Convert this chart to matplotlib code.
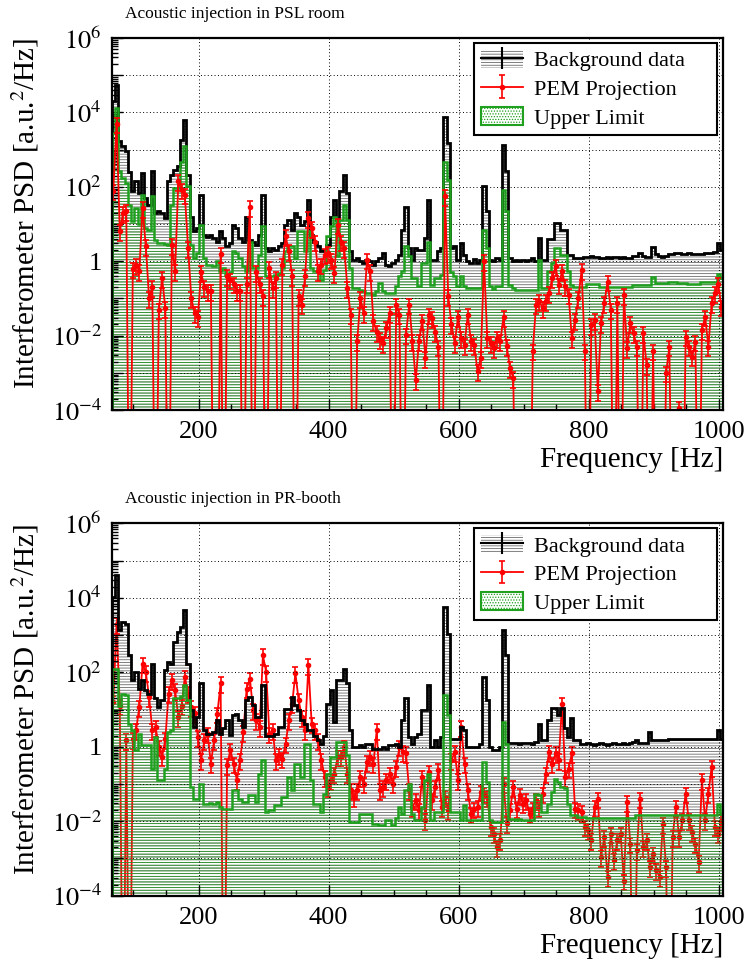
import numpy as np
import matplotlib
matplotlib.use('Agg')
import matplotlib.pyplot as plt
from matplotlib.patches import Patch
from matplotlib.lines import Line2D
from matplotlib.ticker import FixedLocator, FuncFormatter, LogLocator, MultipleLocator

plt.rcParams['font.family'] = ['Liberation Serif', 'DejaVu Serif']
plt.rcParams['mathtext.fontset'] = 'stix'
plt.rcParams['hatch.linewidth'] = 0.6

Z = -np.inf  # empty bin, drawn down to the bottom of the axis

# frequency binning (Hz)
f_lo, f_hi, bin_w = 66.5, 1006.5, 5.0
edges = np.arange(f_lo, f_hi + 0.01, bin_w)
centers = edges[:-1] + bin_w / 2

# all PSD values below are log10(a.u.^2/Hz), one per bin
# --- Acoustic injection in PSL room ---
bg_psl = [4.3, 4.75, 3.22, 3.09, 2.95, 2.4, 1.9, 2.15, 1.83, 2.37,
          1.7, 1.52, 2.43, 1.3, 1.36, 1.3, 1.16, 2.15, 2.33, 2.46,
          2.55, 3.27, 3.8, 2.33, 1.2, 0.8, 0.9, 1.79, 0.71, 0.64,
          0.71, 0.62, 0.53, 0.8, 0.62, 0.4, 0.49, 0.98, 0.89, 0.62,
          0.53, 1.2, 0.58, 0.53, 0.44, 0.71, 1.79, 0.35, 0.27, 0.35,
          0.31, 0.4, 0.49, 0.98, 1.12, 0.85, 1.3, 1.2, 0.98, 1.07,
          1.65, 0.71, 0.53, 0.4, 0.27, 0.31, 0.44, 1.2, 1.65, 1.12,
          1.88, 2.33, 1.83, 0.27, 0.04, 0.09, 0.0, -0.05, 0.04, 0.0,
          -0.09, 0.0, 0.09, 0.22, -0.09, -0.14, -0.05, 0.04, 0.18, 0.85,
          1.47, 0.35, 0.04, 0.35, 0.3, 0.3, 0.62, 1.65, 0.04, 0.04,
          0.27, 0.35, 3.88, 3.18, 0.35, 0.4, 0.04, 0.49, 0.18, 0.0,
          -0.05, 0.05, -0.05, 0.04, 2.01, 1.34, 0.04, 0.0, 0.1, 0.04,
          3.13, 2.42, 0.09, 0.0, 0.04, 0.0, 0.04, 0.0, 0.04, 0.09,
          0.0, 0.62, 0.04, 0.04, 0.6, 0.6, 1.03, 1.03, 0.85, 0.85,
          0.18, 0.18, 0.1, 0.08, 0.1, 0.12, 0.12, 0.13, 0.12, 0.12,
          0.1, 0.1, 0.12, 0.1, 0.12, 0.12, 0.1, 0.12, 0.1, 0.1,
          0.15, 0.15, 0.23, 0.15, 0.12, 0.12, 0.39, 0.2, 0.15, 0.12,
          0.15, 0.2, 0.2, 0.22, 0.22, 0.2, 0.2, 0.22, 0.2, 0.2,
          0.2, 0.2, 0.22, 0.22, 0.22, 0.25, 0.48, 0.3]
ul_psl = [3.45, 4.12, 2.42, 2.24, 2.1, 1.5, 1.07, 1.43, 1.0, 1.79,
          0.89, 0.85, 1.74, 0.58, 0.5, 0.49, 0.45, 0.44, 1.52, 1.97,
          1.97, 2.68, 3.09, 2.01, 0.44, 0.09, 0.22, 0.98, 0.09, -0.09,
          -0.09, -0.14, 0.0, -0.27, -0.18, -0.36, -0.3, 0.27, 0.22, 0.09,
          -0.14, -0.27, 0.53, -0.18, -0.18, 0.18, 0.94, -0.4, -0.4, -0.4,
          -0.36, -0.32, -0.18, 0.27, 0.4, 0.4, 0.09, 0.8, 0.8, 0.27,
          0.8, -0.18, -0.27, -0.18, -0.5, -0.23, 0.67, 0.94, 1.2, 0.13,
          1.12, 1.52, 1.12, -0.18, -0.72, -0.72, -0.77, -0.81, -0.85, -0.85,
          -0.9, -0.81, -0.59, -0.81, -0.85, -0.85, -0.85, -0.67, -0.4, -0.27,
          0.4, 0.13, -0.45, -0.45, -0.67, -0.05, -0.05, 0.53, -0.63, -0.45,
          -0.45, -0.36, 2.68, 2.19, -0.3, -0.4, -0.67, -0.4, -0.67, -0.72,
          -0.72, -0.72, -0.72, -0.72, 0.85, 0.35, -0.67, -0.75, -0.67, -0.67,
          1.92, 1.34, -0.63, -0.72, -0.77, -0.77, -0.77, -0.77, -0.77, -0.77,
          -0.77, 0.04, -0.72, -0.72, -0.27, -0.05, 0.35, 0.35, 0.18, 0.18,
          -0.27, -0.63, -0.69, -0.69, -0.69, -0.69, -0.62, -0.62, -0.62, -0.62,
          -0.69, -0.69, -0.69, -0.69, -0.69, -0.69, -0.69, -0.69, -0.69, -0.69,
          -0.64, -0.64, -0.64, -0.64, -0.64, -0.64, -0.42, -0.58, -0.58, -0.58,
          -0.58, -0.55, -0.55, -0.55, -0.58, -0.58, -0.58, -0.61, -0.61, -0.61,
          -0.61, -0.55, -0.55, -0.55, -0.55, -0.55, -0.33, -0.46]
pem_psl = [1.9, 3.7, 0.8, 1.3, 1.35, Z, -0.2, -0.1, -0.27, 1.43,
           0.4, -1.0, -0.7, Z, -1.3, -0.45, -1.26, Z, 0.44, -0.27,
           2.15, 1.92, 1.79, 0.35, -1.0, -1.4, -1.5, -0.3, -0.7, -0.8,
           -0.8, Z, Z, 0.2, Z, -0.4, -0.5, -0.6, -0.8, -0.8,
           Z, -0.6, 1.45, Z, -0.3, -0.6, -0.94, Z, -0.18, -0.72,
           -0.45, Z, -0.1, 0.67, 0.27, -0.4, Z, -0.94, -1.17, -0.4,
           1.16, 0.89, 0.53, -0.27, -0.09, 0.18, 0.22, 0.04, -0.32, 0.98,
           0.53, 0.35, -0.72, -1.44, Z, -2.15, -1.0, -1.4, 0.04, -0.27,
           -1.62, -1.9, -2.1, -2.2, -1.8, -1.4, Z, -1.17, -1.44, Z,
           -1.97, -1.17, -2.15, -3.2, -2.15, -1.6, -2.6, -1.44, -1.53, -1.9,
           -2.3, Z, 1.75, -0.94, -1.7, -2.2, -1.5, -2.06, -2.25, -1.44,
           -2.15, -2.25, -2.96, -2.6, 0.0, -2.06, -2.2, -2.33, -2.06, -2.15,
           -1.5, -2.29, -2.87, -3.14, Z, Z, Z, Z, Z, -2.4,
           -1.17, -1.08, -1.26, -1.08, -0.85, -0.45, -0.14, -0.63, -0.27, -0.67,
           -0.9, -2.06, -1.58, -1.0, -0.24, -2.4, Z, -1.72, -1.58, -3.5,
           -1.67, -1.13, -0.55, -1.3, Z, -1.13, Z, -0.91, -2.34, -1.67,
           -1.94, -2.3, Z, -1.94, -2.79, Z, -2.4, Z, Z, Z,
           -3.0, -2.3, Z, Z, -3.95, Z, -2.03, -2.3, -2.57, -2.16,
           Z, -1.85, -1.49, -2.3, -1.13, -0.86, -0.6, -1.22]

# --- Acoustic injection in PR-booth ---
bg_pr = [4.03, 4.61, 3.13, 3.35, 3.29, 2.46, 1.79, 2.01, 1.56, 1.79,
         1.52, 1.43, 2.23, 1.3, 1.07, 1.25, 2.06, 2.28, 2.23, 2.82,
         3.09, 3.22, 3.67, 2.23, 0.98, 0.53, 0.8, 1.7, 0.44, 0.35,
         0.35, 0.4, 0.71, 0.35, 0.5, 0.71, 0.31, 0.85, 0.89, 0.71,
         0.53, 1.25, 1.34, 1.12, 0.8, 0.8, 1.65, 0.3, 0.3, 0.3,
         0.35, 0.53, 0.53, 1.02, 1.02, 1.34, 1.12, 0.98, 0.71, 0.62,
         0.44, 0.44, 0.3, 0.17, 0.08, 0.3, 1.16, 1.52, 0.67, 1.79,
         1.79, 2.1, 1.7, 0.44, 0.0, 0.0, 0.04, 0.0, 0.08, 0.08,
         -0.05, -0.05, -0.05, 0.0, -0.05, 0.04, 0.04, 0.08, 0.0, 0.71,
         1.3, 0.26, 0.08, 0.26, 0.35, 0.98, 1.0, 1.65, 0.0, 0.17,
         0.0, 0.26, 3.76, 3.04, 0.22, 0.2, 0.22, 0.53, 0.44, 0.0,
         0.0, 0.0, 0.0, 0.08, 1.87, 1.25, 0.0, -0.09, -0.09, 0.0,
         3.13, 2.46, 0.1, 0.1, 0.1, 0.08, 0.1, 0.1, 0.1, 0.08,
         0.12, 0.62, 0.17, 0.17, 0.71, 1.03, 1.03, 0.85, 1.03, 0.5,
         0.26, 0.76, 0.17, 0.17, 0.08, 0.08, 0.1, 0.08, 0.05, 0.08,
         0.1, 0.08, 0.05, 0.08, 0.1, 0.08, 0.08, 0.1, 0.08, 0.1,
         0.12, 0.17, 0.1, 0.1, 0.1, 0.4, 0.17, 0.17, 0.17, 0.17,
         0.17, 0.22, 0.22, 0.22, 0.22, 0.22, 0.22, 0.2, 0.2, 0.2,
         0.2, 0.2, 0.2, 0.2, 0.2, 0.2, 0.44, 0.2]
ul_pr = [2.1, 2.1, 1.1, 1.43, 1.4, 0.6, 0.46, -0.09, 0.35, 0.04,
         0.04, 0.04, -0.59, 0.26, -0.9, -0.9, -0.6, 0.4, 0.44, 1.3,
         1.3, 1.35, 1.65, 1.25, -1.08, -1.39, -1.39, -0.99, -1.53, -1.53,
         -1.5, -1.53, -1.48, -1.62, -1.66, -1.66, -1.66, -1.17, -1.17, -1.39,
         -1.48, -1.48, -1.3, -1.3, -1.48, -0.72, -0.36, -1.75, -1.71, -1.71,
         -1.57, -1.57, -1.35, -1.35, -0.81, -1.17, -0.45, -0.45, -0.81, 0.08,
         0.08, -0.9, -1.53, -1.53, -1.75, -1.26, -0.72, -0.27, -0.27, 0.13,
         0.13, 0.13, -0.23, -2.02, -2.02, -2.02, -1.8, -1.8, -1.8, -1.8,
         -2.07, -2.07, -2.11, -2.11, -1.98, -1.98, -2.11, -1.9, -1.62, -1.8,
         -1.17, -0.99, -1.8, -1.98, -1.98, -1.62, -0.9, -0.72, -1.98, -1.75,
         -1.75, -1.75, 1.38, 0.85, -1.75, -1.75, -1.75, -1.98, -1.57, -1.98,
         -1.98, -1.98, -1.98, -1.98, -0.41, -0.95, -1.98, -2.02, -2.02, -2.02,
         0.67, 0.08, -1.93, -1.93, -1.98, -1.93, -1.98, -1.98, -1.98, -1.98,
         -1.26, -1.3, -1.75, -1.75, -1.53, -1.21, -0.86, -0.95, -1.08, -1.12,
         -1.53, -1.84, -1.84, -1.88, -1.88, -1.88, -1.9, -1.9, -1.9, -1.9,
         -1.9, -1.9, -1.9, -1.9, -1.9, -1.9, -1.9, -1.9, -1.9, -1.9,
         -1.9, -1.84, -1.84, -1.84, -1.84, -1.84, -1.84, -1.84, -1.84, -1.84,
         -1.84, -1.84, -1.84, -1.84, -1.84, -1.84, -1.84, -1.84, -1.84, -1.84,
         -1.84, -1.84, -1.84, -1.84, -1.84, -1.84, -1.53, -1.8]
pem_pr = [1.2, 3.3, 1.1, Z, 0.17, Z, 0.2, 0.44, 1.07, 2.23,
          2.0, 1.34, 0.44, 0.53, 0.0, -0.27, 0.2, 1.43, 1.79, 1.52,
          0.8, 1.1, 1.88, 1.43, 1.07, 0.9, 0.26, -0.36, 0.17, 0.35,
          -0.45, 0.17, 0.89, 1.7, Z, -0.5, -0.09, -0.45, -0.9, -0.36,
          0.4, 1.56, 1.83, 0.98, 0.71, 0.53, 2.46, 2.01, 0.35, 0.44,
          -0.36, -0.23, -0.32, 0.08, 0.71, 1.16, 1.97, 1.25, 0.8, 0.44,
          2.19, 0.62, 0.44, 0.17, -0.36, -0.81, -1.08, -0.9, -0.72, -0.27,
          -0.27, 0.0, -0.72, -1.17, -1.35, -1.17, -0.81, -0.99, -0.41, -0.27,
          -0.45, 0.44, -1.17, -1.08, -0.9, -0.72, -0.99, -0.54, 0.0, -0.14,
          -0.18, -1.17, -1.62, -1.44, -1.71, -0.81, -1.98, -0.68, -1.44, -1.08,
          -0.63, -1.62, -1.35, -1.71, -0.36, -0.14, -0.9, 0.53, -0.45, -1.17,
          -1.8, -1.66, -1.62, -1.21, -1.26, -1.35, -2.15, -2.33, -2.7, -2.51,
          -0.99, -2.06, -1.71, -1.08, -1.66, -1.3, -1.53, -1.44, -1.8, -1.66,
          -1.44, -1.62, -1.26, -0.72, -0.14, -0.45, -0.18, -0.36, 1.16, -0.81,
          -0.59, -0.18, -1.66, -1.71, -1.75, -2.15, -2.24, -2.51, -1.62, -1.39,
          -2.96, -2.42, -3.5, -2.33, -3.05, -2.51, -2.33, -3.6, -1.48, -2.6,
          Z, -2.78, -1.39, -2.69, -2.51, -3.23, -2.87, -3.32, -3.5, -2.07,
          -3.23, Z, -2.42, -1.62, -2.42, -1.98, -1.26, -1.98, -2.29, -2.6,
          -3.1, -0.9, -1.98, -1.26, -0.54, -2.15, -2.33, -2.0]

pem_rel_err = 0.45  # typical relative error on the projection points

titles = ['Acoustic injection in PSL room', 'Acoustic injection in PR-booth']
legend_labels = ['Background data', 'PEM Projection', 'Upper Limit']

BG_HATCH = '#6a6a6a'
UL_GREEN = '#1fa01f'
UL_HATCH = '#2e9a2e'
FLOOR = 1e-9


def decade_label(v, pos):
    e = int(round(np.log10(v)))
    if e % 2:
        return ''
    if e == 0:
        return '1'
    return r'$10^{%d}$' % e


def draw_panel(ax, bg_log, ul_log, pem_log, red_on_top):
    bg = 10.0 ** np.array(bg_log)
    ul = 10.0 ** np.array(ul_log)
    pem = 10.0 ** np.array(pem_log)

    ax.stairs(bg, edges, baseline=FLOOR, fill=True, facecolor='none',
              edgecolor=BG_HATCH, hatch='------', lw=0, zorder=1)
    z_red, z_ul = (4, 1.5) if red_on_top else (1.4, 1.8)
    ax.stairs(ul, edges, baseline=FLOOR, fill=True, facecolor='none',
              edgecolor=UL_HATCH, hatch='------', lw=0, zorder=z_ul)
    ax.stairs(bg, edges, baseline=FLOOR, color='black', lw=2, zorder=3)
    ax.stairs(ul, edges, baseline=FLOOR, color=UL_GREEN, lw=1.8, zorder=3.2)

    y = np.where(pem > 0, pem, FLOOR)
    eb = ax.errorbar(centers, y, yerr=pem * pem_rel_err, fmt='-o', color='red',
                     ms=3.0, lw=1.3, elinewidth=1.2, capsize=2, capthick=1.2,
                     zorder=z_red)

    ax.set_yscale('log')
    ax.set_ylim(1e-4, 1e6)
    ax.set_xlim(f_lo, f_hi)
    ax.yaxis.set_major_locator(FixedLocator(10.0 ** np.arange(-4, 7)))
    ax.yaxis.set_minor_locator(LogLocator(base=10, subs=np.arange(2, 10), numticks=30))
    ax.yaxis.set_major_formatter(FuncFormatter(decade_label))
    ax.xaxis.set_major_locator(MultipleLocator(200))
    ax.xaxis.set_minor_locator(MultipleLocator(50))
    ax.tick_params(which='both', direction='in', top=False, right=False, width=1)
    ax.tick_params(which='major', length=8, labelsize=19)
    ax.tick_params(which='minor', length=4)
    ax.tick_params(axis='y', pad=7)
    ax.tick_params(axis='x', pad=8)
    ax.set_axisbelow(False)
    ax.grid(True, which='major', color='black', lw=0.7, ls=(0, (1, 2.5)))
    for s in ax.spines.values():
        s.set_linewidth(1.6)
        s.set_zorder(6)

    ax.set_ylabel('Interferometer PSD [a.u.$^2$/Hz]', fontsize=21, loc='top')
    ax.yaxis.set_label_coords(-0.115, 1.0)
    ax.set_xlabel('Frequency [Hz]', fontsize=21, loc='right')
    ax.xaxis.set_label_coords(1.0, -0.1)

    bg_handle = (Patch(facecolor='none', edgecolor=BG_HATCH, hatch='------', lw=0),
                 Line2D([], [], color='black', lw=1.5, marker='|', ms=16, mew=1.5))
    ul_handle = Patch(facecolor='none', edgecolor=UL_GREEN, hatch='......', lw=1.5)
    leg = ax.legend([bg_handle, eb, ul_handle], legend_labels,
                    loc='upper left', bbox_to_anchor=(0.593, 0.739, 0.397, 0.248),
                    mode='expand', borderaxespad=0, fontsize=16, fancybox=False,
                    edgecolor='black', framealpha=1, handlelength=1.9,
                    handleheight=0.9, labelspacing=0.3, borderpad=0.3,
                    handletextpad=0.5)
    leg.get_frame().set_linewidth(1.5)
    leg.set_zorder(10)


fig = plt.figure(figsize=(7.46, 9.65), dpi=100)
ax1 = fig.add_axes([0.1497, 0.5751, 0.8195, 0.3855])
ax2 = fig.add_axes([0.1497, 0.0718, 0.8195, 0.3859])

draw_panel(ax1, bg_psl, ul_psl, pem_psl, red_on_top=True)
draw_panel(ax2, bg_pr, ul_pr, pem_pr, red_on_top=False)

fig.text(125 / 746, 1 - 14 / 965, titles[0], fontsize=12.5, va='center', ha='left')
fig.text(125 / 746, 1 - 499 / 965, titles[1], fontsize=12.5, va='center', ha='left')

fig.savefig('out.png', dpi=100)
